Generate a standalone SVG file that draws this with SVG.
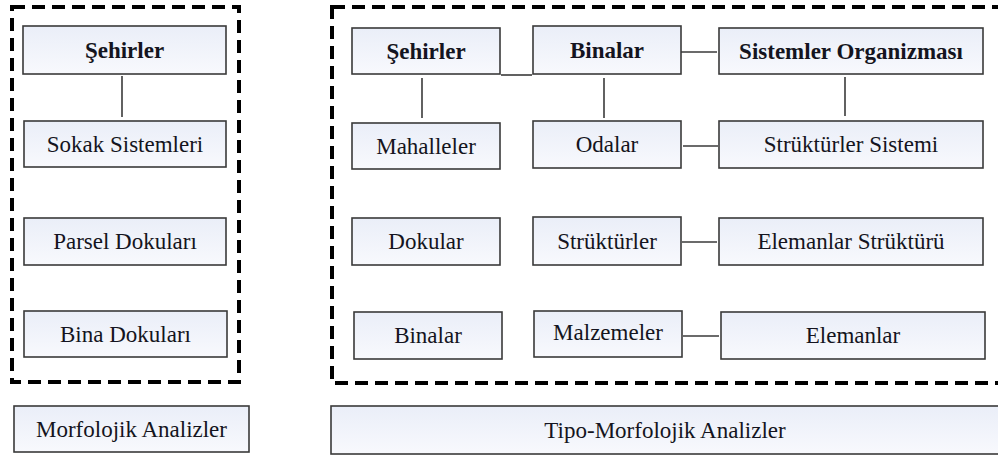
<svg xmlns="http://www.w3.org/2000/svg" width="998" height="455" viewBox="0 0 998 455">
<defs>
<linearGradient id="g" x1="0" y1="0" x2="0" y2="1">
<stop offset="0" stop-color="#eaeef8"/>
<stop offset="1" stop-color="#f8f9fd"/>
</linearGradient>
<style>
.n rect{fill:url(#g);stroke:#3a3a3a;stroke-width:1.6}
.n text{font-family:"Liberation Serif","Times New Roman",serif;font-size:23px;fill:#141420;text-anchor:middle}
.b text{font-weight:bold}
.dash{fill:none;stroke:#000;stroke-width:4;stroke-dasharray:13 7}
.c line{stroke:#3a3a3a;stroke-width:1.6}
</style>
</defs>
<rect width="998" height="455" fill="#fff"/>
<rect class="dash" x="12" y="7" width="227" height="375"/>
<rect class="dash" x="332" y="7" width="700" height="376"/>
<g class="c" id="connectors">
<line x1="122" y1="76" x2="122" y2="117"/>
<line x1="422" y1="78" x2="422" y2="118"/>
<line x1="501" y1="75" x2="532" y2="75"/>
<line x1="604" y1="78" x2="604" y2="118"/>
<line x1="681" y1="52" x2="717" y2="52"/>
<line x1="845" y1="77" x2="845" y2="116"/>
<line x1="683" y1="146" x2="718" y2="146"/>
<line x1="682" y1="242" x2="717" y2="242"/>
<line x1="683" y1="336" x2="719" y2="336"/>
</g>
<g class="n b" id="l-sehirler"><rect x="23" y="26" width="203" height="48"/><text x="124.5" y="58">Şehirler</text></g>
<g class="n" id="l-sokak"><rect x="24" y="121" width="202" height="46"/><text x="125" y="152">Sokak Sistemleri</text></g>
<g class="n" id="l-parsel"><rect x="24" y="218" width="202" height="47"/><text x="125" y="249">Parsel Dokuları</text></g>
<g class="n" id="l-bina"><rect x="24" y="311" width="203" height="46"/><text x="125.5" y="342">Bina Dokuları</text></g>
<g class="n" id="morfolojik"><rect x="14" y="406" width="235" height="46"/><text x="131.5" y="437">Morfolojik Analizler</text></g>
<g class="n b" id="r-sehirler"><rect x="352" y="28" width="148" height="46"/><text x="426" y="59">Şehirler</text></g>
<g class="n b" id="r-binalar"><rect x="533" y="26" width="148" height="48"/><text x="607" y="58">Binalar</text></g>
<g class="n b" id="sistemler"><rect x="719" y="28" width="264" height="46"/><text x="851" y="59">Sistemler Organizması</text></g>
<g class="n" id="mahalleler"><rect x="352" y="123" width="148" height="46"/><text x="426" y="154">Mahalleler</text></g>
<g class="n" id="odalar"><rect x="533" y="121" width="148" height="47"/><text x="607" y="152">Odalar</text></g>
<g class="n" id="strukturler-sistemi"><rect x="719" y="121" width="264" height="47"/><text x="851" y="152">Strüktürler Sistemi</text></g>
<g class="n" id="dokular"><rect x="352" y="218" width="148" height="47"/><text x="426" y="249">Dokular</text></g>
<g class="n" id="strukturler"><rect x="533" y="217" width="148" height="48"/><text x="607" y="249">Strüktürler</text></g>
<g class="n" id="elemanlar-strukturu"><rect x="719" y="218" width="264" height="47"/><text x="851" y="249">Elemanlar Strüktürü</text></g>
<g class="n" id="r-binalar2"><rect x="354" y="312" width="148" height="47"/><text x="428" y="343">Binalar</text></g>
<g class="n" id="malzemeler"><rect x="534" y="311" width="148" height="46"/><text x="608" y="340">Malzemeler</text></g>
<g class="n" id="elemanlar"><rect x="721" y="312" width="264" height="47"/><text x="853" y="343">Elemanlar</text></g>
<g class="n" id="tipo"><rect x="331" y="406" width="680" height="48"/><text x="665" y="438">Tipo-Morfolojik Analizler</text></g>
</svg>
